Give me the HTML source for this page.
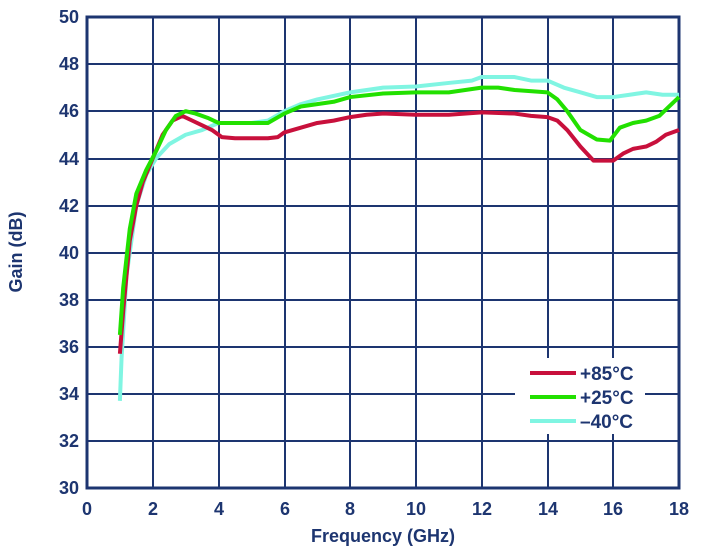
<!DOCTYPE html>
<html><head><style>
body{margin:0;background:#fff;}
text{font-family:"Liberation Sans",Arial,sans-serif;font-weight:bold;fill:#1d3570;}
</style></head><body>
<svg width="703" height="550" viewBox="0 0 703 550" xmlns="http://www.w3.org/2000/svg">
<g stroke="#1d3570" stroke-width="2" fill="none">
<path d="M153,17V488M219,17V488M285,17V488M350,17V488M416,17V488M482,17V488M548,17V488M613,17V488"/>
<path d="M87,64H679M87,111H679M87,159H679M87,206H679M87,253H679M87,300H679M87,347H679M87,394H679M87,441H679"/>
</g>
<rect x="515" y="358" width="130" height="76" fill="#fff"/>
<rect x="87" y="17" width="592" height="471" fill="none" stroke="#1d3570" stroke-width="3"/>
<g transform="translate(87,488) scale(32.89,-23.55)" fill="none" stroke-width="4" stroke-linejoin="round">
<polyline vector-effect="non-scaling-stroke" stroke="#80f5e2" points="1.0,3.7 1.05,5.5 1.2,9 1.5,12 1.8,13.3 2.1,14 2.5,14.6 3,15 3.5,15.2 4,15.5 5,15.5 5.5,15.6 6,16 6.5,16.3 7,16.5 8,16.8 9,17.0 10,17.05 11,17.2 11.7,17.3 12,17.45 13,17.45 13.5,17.3 14,17.3 14.5,17.0 15,16.8 15.5,16.6 16,16.6 16.5,16.7 17,16.8 17.5,16.7 18,16.7"/>
<polyline vector-effect="non-scaling-stroke" stroke="#c8103c" points="1.0,5.7 1.1,7.5 1.3,10.5 1.5,12 1.7,13 2.0,14 2.3,15 2.6,15.6 2.9,15.8 3.2,15.6 3.5,15.4 3.8,15.2 4.1,14.9 4.5,14.85 5.5,14.85 5.8,14.9 6.0,15.1 6.5,15.3 7.0,15.5 7.5,15.6 8.0,15.75 8.5,15.85 9,15.9 10,15.85 11,15.85 12,15.95 13,15.9 13.5,15.8 14,15.75 14.3,15.6 14.6,15.2 15,14.5 15.4,13.9 16,13.9 16.3,14.2 16.6,14.4 17,14.5 17.3,14.7 17.6,15 18,15.2"/>
<polyline vector-effect="non-scaling-stroke" stroke="#22e000" points="1.0,6.5 1.1,8.5 1.3,11 1.5,12.5 1.8,13.5 2.1,14.3 2.4,15.2 2.7,15.8 3.0,16 3.3,15.9 3.7,15.7 4.0,15.5 5.5,15.5 6.0,15.9 6.5,16.2 7,16.3 7.5,16.4 8,16.6 9,16.75 10,16.8 11,16.8 11.5,16.9 12,17.0 12.5,17.0 13,16.9 14,16.8 14.3,16.5 14.6,16 15,15.2 15.5,14.8 15.9,14.75 16.2,15.3 16.6,15.5 17,15.6 17.4,15.8 17.7,16.2 18,16.6"/>
</g>
<g stroke-width="4">
<line x1="530" y1="373" x2="576" y2="373" stroke="#c8103c"/>
<line x1="530" y1="397" x2="576" y2="397" stroke="#22e000"/>
<line x1="530" y1="421" x2="576" y2="421" stroke="#80f5e2"/>
</g>
<g font-size="19">
<text x="580" y="380">+85°C</text>
<text x="580" y="404">+25°C</text>
<text x="580" y="428">–40°C</text>
</g>
<g font-size="18" text-anchor="end">
<text x="79" y="23">50</text><text x="79" y="70">48</text><text x="79" y="117">46</text>
<text x="79" y="165">44</text><text x="79" y="212">42</text><text x="79" y="259">40</text>
<text x="79" y="306">38</text><text x="79" y="353">36</text><text x="79" y="400">34</text>
<text x="79" y="447">32</text><text x="79" y="494">30</text>
</g>
<g font-size="18" text-anchor="middle">
<text x="87" y="515">0</text><text x="153" y="515">2</text><text x="219" y="515">4</text>
<text x="285" y="515">6</text><text x="350" y="515">8</text><text x="416" y="515">10</text>
<text x="482" y="515">12</text><text x="548" y="515">14</text><text x="613" y="515">16</text>
<text x="679" y="515">18</text>
<text x="383" y="542">Frequency (GHz)</text>
<text transform="translate(22,252) rotate(-90)">Gain (dB)</text>
</g>
</svg>
</body></html>
